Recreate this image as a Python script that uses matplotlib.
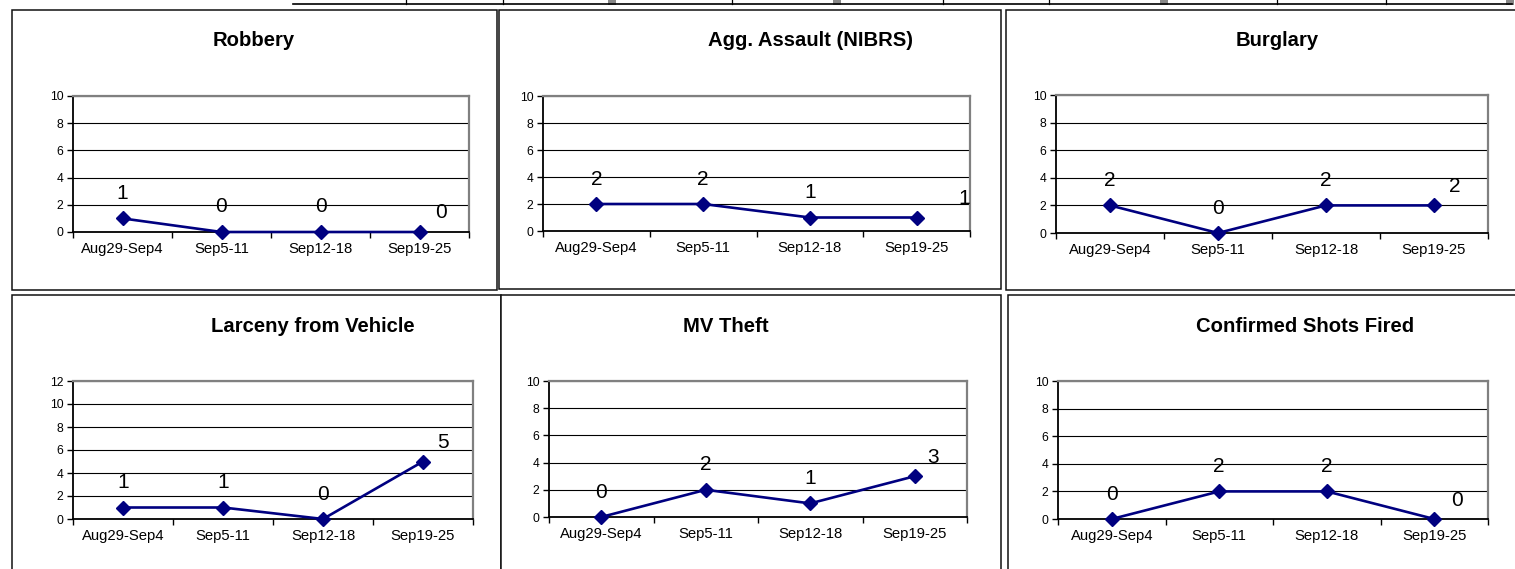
import matplotlib
matplotlib.use("Agg")
import matplotlib.pyplot as plt
from matplotlib.patches import Rectangle

plt.rcParams['font.family'] = ['Liberation Sans', 'DejaVu Sans']

# ---------------- data ----------------
categories = ["Aug29-Sep4", "Sep5-11", "Sep12-18", "Sep19-25"]
titles = ["Robbery", "Agg. Assault (NIBRS)", "Burglary",
          "Larceny from Vehicle", "MV Theft", "Confirmed Shots Fired"]
robbery = [1, 0, 0, 0]
agg_assault = [2, 2, 1, 1]
burglary = [2, 0, 2, 2]
larceny_vehicle = [1, 1, 0, 5]
mv_theft = [0, 2, 1, 3]
shots_fired = [0, 2, 2, 0]
series = [robbery, agg_assault, burglary, larceny_vehicle, mv_theft, shots_fired]
y_max = [10, 10, 10, 12, 10, 10]

# ---------------- layout (pixels) ----------------
W, H = 1515, 569
fig = plt.figure(figsize=(W / 100, H / 100), dpi=100)
fig.patch.set_facecolor("white")

bg = fig.add_axes([0, 0, 1, 1], zorder=0)
bg.set_xlim(0, W)
bg.set_ylim(H, 0)
bg.axis("off")

# chart frames (x0, y0, x1, y1)
frames = [(12, 10, 497, 290), (499, 10, 1001, 289), (1006, 10, 1530, 290),
          (12, 295, 501, 580), (501, 295, 1001, 580), (1008, 295, 1530, 580)]
for (x0, y0, x1, y1) in frames:
    bg.add_patch(Rectangle((x0, y0), x1 - x0, y1 - y0, facecolor="white",
                           edgecolor="#111111", linewidth=1.1))

# spreadsheet cell lines at the top
bg.plot([293, 1512], [4, 4], color="black", linewidth=1.2)
for xv in [406, 503, 732, 943, 1049, 1277, 1386]:
    bg.plot([xv, xv], [0, 4], color="black", linewidth=0.9)
for xg in [608, 833, 1160, 1506]:
    bg.add_patch(Rectangle((xg, 0), 8, 5, facecolor="#888888", edgecolor="none"))

# plot areas (left, top, right, bottom) in pixels
plot_areas = [(73, 96, 469, 232), (543, 96, 970, 231), (1056, 95, 1488, 233),
              (73, 381, 473, 519), (549, 381, 967, 517), (1058, 381, 1488, 519)]
title_pos = [(254, 41), (811, 41), (1277, 41), (313, 326), (726, 326), (1305, 326)]
last_dx = [22, 48, 21, 20, 18, 23]

navy = "#000080"
xs = [i + 0.5 for i in range(len(categories))]

for k, (l, t, r, b) in enumerate(plot_areas):
    ax = fig.add_axes([l / W, 1 - b / H, (r - l) / W, (b - t) / H], zorder=2)
    ax.set_facecolor("white")
    vals = series[k]
    ax.plot(xs, vals, color=navy, linewidth=1.9, marker="D", markersize=7.5,
            markerfacecolor=navy, markeredgecolor=navy, clip_on=False, zorder=5)
    for i, v in enumerate(vals):
        if i == len(vals) - 1:
            off = (last_dx[k], 19)
        else:
            off = (0, 25)
        ax.annotate(str(v), (xs[i], v), xytext=off, textcoords="offset pixels",
                    ha="center", va="center", fontsize=15, color="black",
                    zorder=6, annotation_clip=False)
    ax.set_xlim(0, len(categories))
    ax.set_ylim(0, y_max[k])
    ax.set_yticks(range(0, y_max[k] + 1, 2))
    ax.yaxis.grid(True, color="black", linewidth=0.8)
    ax.set_axisbelow(True)
    ax.set_xticks(range(len(categories) + 1))
    ax.set_xticklabels([])
    ax.set_xticks(xs, minor=True)
    ax.set_xticklabels(categories, minor=True, fontsize=10.7)
    ax.tick_params(axis="x", which="major", direction="out", length=4, width=1, color="black")
    ax.tick_params(axis="x", which="minor", length=0, pad=7)
    ax.tick_params(axis="y", direction="out", length=4, width=1, labelsize=8.7, pad=3)
    for s in ["top", "right"]:
        ax.spines[s].set_color("#808080")
        ax.spines[s].set_linewidth(1.6)
    for s in ["left", "bottom"]:
        ax.spines[s].set_color("black")
        ax.spines[s].set_linewidth(1.3)
    tx, ty = title_pos[k]
    fig.text(tx / W, 1 - ty / H, titles[k], ha="center", va="center",
             fontsize=14.6, fontweight="bold", zorder=3)

fig.savefig("out.png", dpi=100, facecolor="white")
